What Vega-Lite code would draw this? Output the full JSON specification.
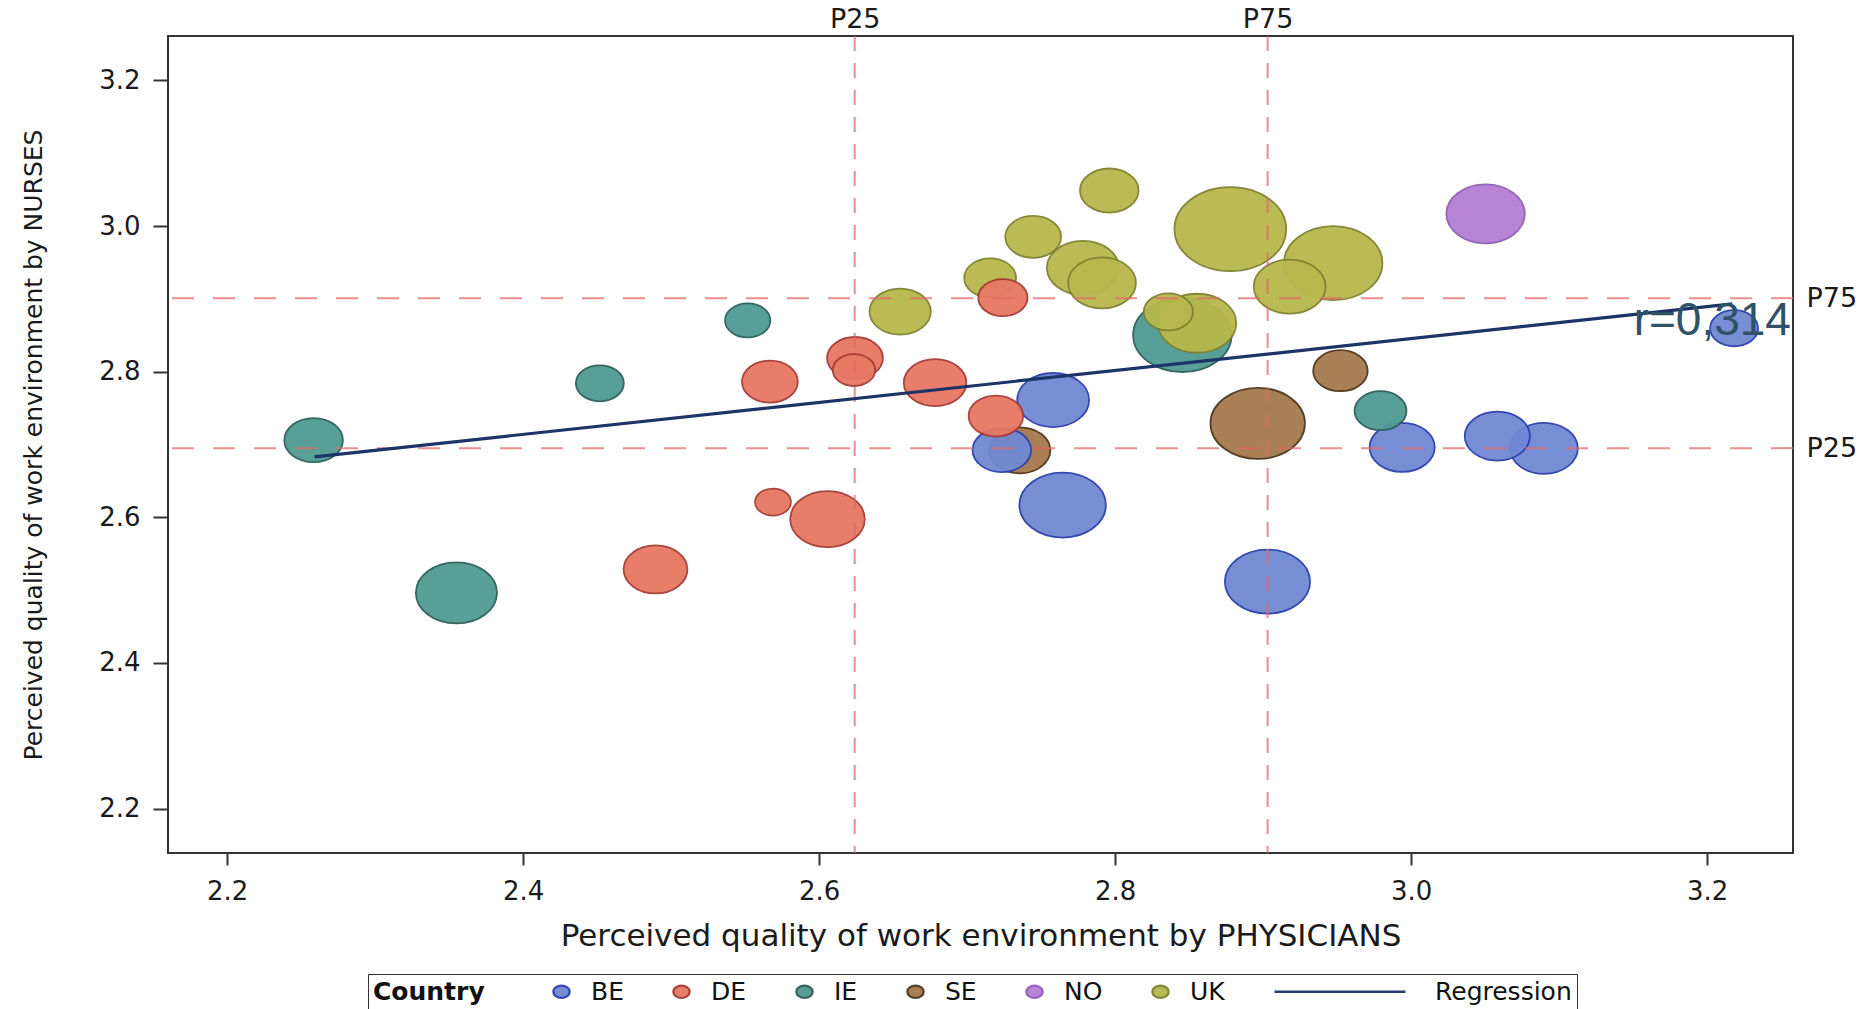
{
  "$schema": "https://vega.github.io/schema/vega-lite/v6.json",
  "width": 1625,
  "height": 817,
  "autosize": {"type": "none"},
  "padding": {"left": 168, "top": 36, "right": 75, "bottom": 156},
  "background": "white",
  "config": {
    "font": "DejaVu Sans",
    "view": {"stroke": "#333333", "strokeWidth": 2},
    "axis": {
      "domain": false,
      "grid": false,
      "labelFont": "DejaVu Sans",
      "labelFontSize": 26,
      "labelColor": "#1a1a1a",
      "tickColor": "#333333",
      "tickWidth": 2,
      "titleFont": "DejaVu Sans",
      "titleFontWeight": "normal",
      "titleColor": "#1a1a1a"
    }
  },
  "datasets": {
    "units": [
      {"country": "SE", "physicians": 2.7355, "nurses": 2.692, "n": 212},
      {"country": "SE", "physicians": 2.8963, "nurses": 2.729, "n": 504},
      {"country": "SE", "physicians": 2.9522, "nurses": 2.8014, "n": 168},
      {"country": "BE", "physicians": 2.7234, "nurses": 2.6924, "n": 194},
      {"country": "BE", "physicians": 2.7581, "nurses": 2.7611, "n": 292},
      {"country": "BE", "physicians": 2.7645, "nurses": 2.6168, "n": 423},
      {"country": "BE", "physicians": 2.9029, "nurses": 2.5116, "n": 410},
      {"country": "BE", "physicians": 2.9939, "nurses": 2.6961, "n": 240},
      {"country": "BE", "physicians": 3.0582, "nurses": 2.7116, "n": 240},
      {"country": "BE", "physicians": 3.0897, "nurses": 2.6947, "n": 260},
      {"country": "BE", "physicians": 3.2182, "nurses": 2.8597, "n": 130},
      {"country": "IE", "physicians": 2.2584, "nurses": 2.706, "n": 194},
      {"country": "IE", "physicians": 2.4518, "nurses": 2.784, "n": 130},
      {"country": "IE", "physicians": 2.5517, "nurses": 2.8704, "n": 116},
      {"country": "IE", "physicians": 2.3549, "nurses": 2.4962, "n": 372},
      {"country": "IE", "physicians": 2.8454, "nurses": 2.8504, "n": 548},
      {"country": "IE", "physicians": 2.9793, "nurses": 2.7464, "n": 152},
      {"country": "NO", "physicians": 3.0503, "nurses": 3.0168, "n": 348},
      {"country": "UK", "physicians": 2.6547, "nurses": 2.8825, "n": 212},
      {"country": "UK", "physicians": 2.7155, "nurses": 2.9288, "n": 152},
      {"country": "UK", "physicians": 2.7446, "nurses": 2.9852, "n": 176},
      {"country": "UK", "physicians": 2.796, "nurses": 3.0488, "n": 194},
      {"country": "UK", "physicians": 2.7782, "nurses": 2.9425, "n": 292},
      {"country": "UK", "physicians": 2.7911, "nurses": 2.9219, "n": 260},
      {"country": "UK", "physicians": 2.8778, "nurses": 2.9957, "n": 706},
      {"country": "UK", "physicians": 2.9473, "nurses": 2.949, "n": 548},
      {"country": "UK", "physicians": 2.9179, "nurses": 2.9168, "n": 292},
      {"country": "UK", "physicians": 2.8359, "nurses": 2.8821, "n": 137},
      {"country": "UK", "physicians": 2.8553, "nurses": 2.8665, "n": 348},
      {"country": "DE", "physicians": 2.4894, "nurses": 2.5284, "n": 230},
      {"country": "DE", "physicians": 2.5667, "nurses": 2.7863, "n": 176},
      {"country": "DE", "physicians": 2.5688, "nurses": 2.6209, "n": 73},
      {"country": "DE", "physicians": 2.6056, "nurses": 2.5975, "n": 314},
      {"country": "DE", "physicians": 2.6242, "nurses": 2.8188, "n": 176},
      {"country": "DE", "physicians": 2.6235, "nurses": 2.8023, "n": 102},
      {"country": "DE", "physicians": 2.6783, "nurses": 2.7849, "n": 221},
      {"country": "DE", "physicians": 2.7241, "nurses": 2.9017, "n": 137},
      {"country": "DE", "physicians": 2.7194, "nurses": 2.7391, "n": 168}
    ],
    "pct_physicians": [
      {"percentile": "P25", "value": 2.624},
      {"percentile": "P75", "value": 2.903}
    ],
    "pct_nurses": [
      {"percentile": "P25", "value": 2.695},
      {"percentile": "P75", "value": 2.901}
    ],
    "regression": [
      {"physicians": 2.259, "nurses": 2.683},
      {"physicians": 3.217, "nurses": 2.893}
    ],
    "annotation": [
      {"label": "r=0,314", "physicians": 3.2566, "nurses": 2.8504}
    ]
  },
  "layer": [
    {
      "data": {"name": "units"},
      "mark": {
        "type": "point",
        "filled": true,
        "opacity": 0.95,
        "strokeWidth": 1.8
      },
      "encoding": {
        "x": {
          "field": "physicians",
          "type": "quantitative",
          "scale": {"domain": [2.16, 3.258], "nice": false, "zero": false},
          "axis": {
            "orient": "bottom",
            "title": "Perceived quality of work environment by PHYSICIANS",
            "values": [2.2, 2.4, 2.6, 2.8, 3.0, 3.2],
            "format": ".1f",
            "tickSize": 12,
            "labelPadding": 13,
            "titleFontSize": 31,
            "titlePadding": 17
          }
        },
        "y": {
          "field": "nurses",
          "type": "quantitative",
          "scale": {"domain": [2.139, 3.261], "nice": false, "zero": false},
          "axis": {
            "orient": "left",
            "title": "Perceived quality of work environment by NURSES",
            "values": [2.2, 2.4, 2.6, 2.8, 3.0, 3.2],
            "format": ".1f",
            "tickSize": 15,
            "labelPadding": 13,
            "titleFontSize": 25,
            "titlePadding": 52
          }
        },
        "color": {
          "field": "country",
          "type": "nominal",
          "scale": {
            "domain": ["BE", "DE", "IE", "SE", "NO", "UK", "Regression"],
            "range": ["#7088d3", "#e77863", "#4f9a92", "#a57a4c", "#b57fd4", "#b7b84c", "#1c3566"]
          },
          "legend": {
            "orient": "none",
            "legendX": 200,
            "legendY": 938,
            "direction": "horizontal",
            "title": "Country",
            "titleOrient": "left",
            "titleAnchor": "middle",
            "titleBaseline": "middle",
            "titleFont": "DejaVu Sans",
            "titleFontSize": 25,
            "titleFontWeight": "bold",
            "titleColor": "#111111",
            "titlePadding": 64,
            "labelFont": "DejaVu Sans",
            "labelFontSize": 25,
            "labelColor": "#111111",
            "labelOffset": 17,
            "columnPadding": 44,
            "symbolSize": 150,
            "symbolStrokeWidth": 2.3,
            "strokeColor": "#333333",
            "fillColor": "white",
            "padding": 5
          }
        },
        "stroke": {
          "field": "country",
          "type": "nominal",
          "scale": {
            "domain": ["BE", "DE", "IE", "SE", "NO", "UK", "Regression"],
            "range": ["#2b3fae", "#a53a34", "#2c5f58", "#4d351c", "#8f5fb5", "#7f812f", "#1c3566"]
          }
        },
        "shape": {
          "field": "country",
          "type": "nominal",
          "scale": {
            "domain": ["BE", "DE", "IE", "SE", "NO", "UK", "Regression"],
            "range": [
              "M 1.33 0 C 1.33 0.5523 0.7346 1 0 1 C -0.7346 1 -1.33 0.5523 -1.33 0 C -1.33 -0.5523 -0.7346 -1 0 -1 C 0.7346 -1 1.33 -0.5523 1.33 0 Z",
              "M 1.33 0 C 1.33 0.5523 0.7346 1 0 1 C -0.7346 1 -1.33 0.5523 -1.33 0 C -1.33 -0.5523 -0.7346 -1 0 -1 C 0.7346 -1 1.33 -0.5523 1.33 0 Z",
              "M 1.33 0 C 1.33 0.5523 0.7346 1 0 1 C -0.7346 1 -1.33 0.5523 -1.33 0 C -1.33 -0.5523 -0.7346 -1 0 -1 C 0.7346 -1 1.33 -0.5523 1.33 0 Z",
              "M 1.33 0 C 1.33 0.5523 0.7346 1 0 1 C -0.7346 1 -1.33 0.5523 -1.33 0 C -1.33 -0.5523 -0.7346 -1 0 -1 C 0.7346 -1 1.33 -0.5523 1.33 0 Z",
              "M 1.33 0 C 1.33 0.5523 0.7346 1 0 1 C -0.7346 1 -1.33 0.5523 -1.33 0 C -1.33 -0.5523 -0.7346 -1 0 -1 C 0.7346 -1 1.33 -0.5523 1.33 0 Z",
              "M 1.33 0 C 1.33 0.5523 0.7346 1 0 1 C -0.7346 1 -1.33 0.5523 -1.33 0 C -1.33 -0.5523 -0.7346 -1 0 -1 C 0.7346 -1 1.33 -0.5523 1.33 0 Z",
              "M -21.4 0 L 0 0"
            ]
          }
        },
        "size": {
          "field": "n",
          "type": "quantitative",
          "scale": {"type": "linear", "domain": [0, 1000], "range": [0, 10000], "zero": true},
          "legend": null
        },
        "order": {"field": "n", "sort": "descending"}
      }
    },
    {
      "data": {"name": "pct_physicians"},
      "mark": {"type": "rule", "color": "#e06a6a", "strokeWidth": 2, "strokeDash": [15, 12], "opacity": 0.75},
      "encoding": {
        "x": {
          "field": "value",
          "type": "quantitative",
          "axis": {
            "orient": "top",
            "values": [2.624, 2.903],
            "labelExpr": "datum.value < 2.75 ? 'P25' : 'P75'",
            "ticks": false,
            "tickSize": 0,
            "labelPadding": 3,
            "labelFontSize": 27,
            "title": null
          }
        }
      }
    },
    {
      "data": {"name": "pct_nurses"},
      "mark": {"type": "rule", "color": "#e06a6a", "strokeWidth": 2, "strokeDash": [22, 19], "opacity": 0.75},
      "encoding": {
        "y": {
          "field": "value",
          "type": "quantitative",
          "axis": {
            "orient": "right",
            "values": [2.695, 2.901],
            "labelExpr": "datum.value < 2.8 ? 'P25' : 'P75'",
            "ticks": false,
            "tickSize": 0,
            "labelPadding": 13,
            "labelFontSize": 27,
            "title": null
          }
        }
      }
    },
    {
      "data": {"name": "regression"},
      "mark": {"type": "line", "color": "#1c3566", "strokeWidth": 3.2},
      "encoding": {
        "x": {"field": "physicians", "type": "quantitative", "axis": null},
        "y": {"field": "nurses", "type": "quantitative", "axis": null}
      }
    },
    {
      "data": {"name": "annotation"},
      "mark": {"type": "text", "align": "right", "baseline": "alphabetic", "font": "Liberation Sans", "fontSize": 46, "color": "#2f5266"},
      "encoding": {
        "x": {"field": "physicians", "type": "quantitative", "axis": null},
        "y": {"field": "nurses", "type": "quantitative", "axis": null},
        "text": {"field": "label", "type": "nominal"}
      }
    }
  ],
  "resolve": {"axis": {"x": "independent", "y": "independent"}}
}
